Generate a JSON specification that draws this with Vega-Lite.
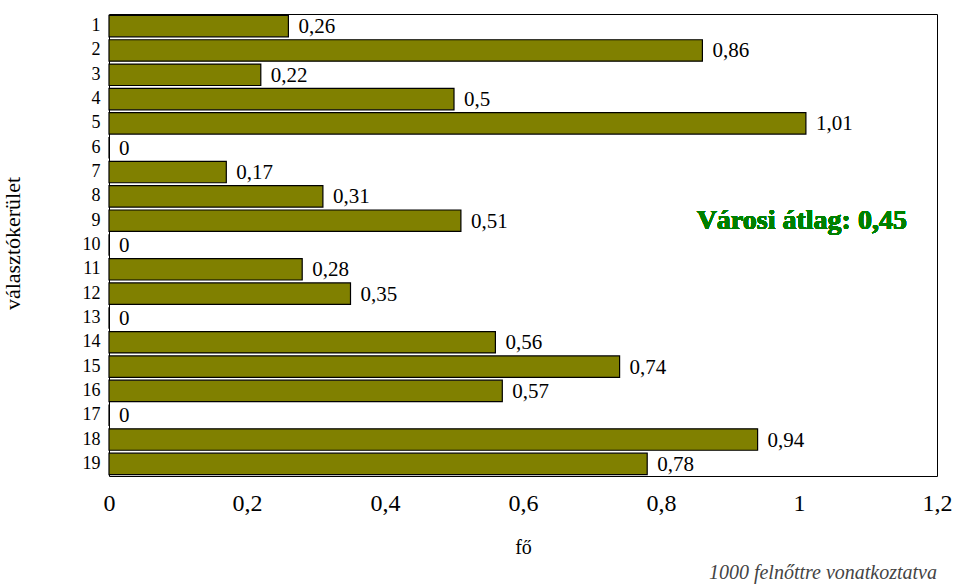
{
  "$schema": "https://vega.github.io/schema/vega-lite/v6.json",
  "width": 828,
  "height": 462,
  "autosize": "none",
  "padding": {"left": 109, "top": 14, "right": 16, "bottom": 109},
  "config": {
    "locale": {"number": {"decimal": ",", "thousands": " ", "grouping": [3], "currency": ["", " Ft"]}},
    "view": {"stroke": "black", "strokeWidth": 1},
    "font": "Liberation Serif",
    "background": "white"
  },
  "title": {
    "text": "1000 felnőttre vonatkoztatva",
    "orient": "bottom",
    "anchor": "end",
    "frame": "group",
    "fontStyle": "italic",
    "fontWeight": "normal",
    "fontSize": 20,
    "color": "#444444",
    "font": "Liberation Serif",
    "offset": 6
  },
  "data": {
    "values": [
      {"kerulet": "1", "ertek": 0.26},
      {"kerulet": "2", "ertek": 0.86},
      {"kerulet": "3", "ertek": 0.22},
      {"kerulet": "4", "ertek": 0.5},
      {"kerulet": "5", "ertek": 1.01},
      {"kerulet": "6", "ertek": 0},
      {"kerulet": "7", "ertek": 0.17},
      {"kerulet": "8", "ertek": 0.31},
      {"kerulet": "9", "ertek": 0.51},
      {"kerulet": "10", "ertek": 0},
      {"kerulet": "11", "ertek": 0.28},
      {"kerulet": "12", "ertek": 0.35},
      {"kerulet": "13", "ertek": 0},
      {"kerulet": "14", "ertek": 0.56},
      {"kerulet": "15", "ertek": 0.74},
      {"kerulet": "16", "ertek": 0.57},
      {"kerulet": "17", "ertek": 0},
      {"kerulet": "18", "ertek": 0.94},
      {"kerulet": "19", "ertek": 0.78}
    ]
  },
  "encoding": {
    "y": {
      "field": "kerulet",
      "type": "ordinal",
      "sort": null,
      "scale": {"paddingInner": 0.12, "paddingOuter": 0.06},
      "axis": {
        "title": "választókerület",
        "titleFont": "Liberation Serif",
        "titleFontWeight": "normal",
        "titleFontSize": 22,
        "titleColor": "black",
        "titleX": -97,
        "titleY": 229,
        "titleAngle": 270,
        "titleAlign": "center",
        "titleBaseline": "middle",
        "labelFont": "Liberation Serif",
        "labelFontSize": 18,
        "labelColor": "black",
        "labelPadding": 9,
        "ticks": false,
        "domain": false
      }
    },
    "x": {
      "field": "ertek",
      "type": "quantitative",
      "scale": {"domain": [0, 1.2], "nice": false},
      "axis": {
        "title": "fő",
        "titleFont": "Liberation Serif",
        "titleFontWeight": "normal",
        "titleFontSize": 20,
        "titleColor": "black",
        "titleY": 71,
        "titleBaseline": "middle",
        "values": [0, 0.2, 0.4, 0.6, 0.8, 1, 1.2],
        "format": ".1~f",
        "labelFont": "Liberation Serif",
        "labelFontSize": 24,
        "labelColor": "black",
        "labelPadding": 15,
        "labelFlush": false,
        "ticks": false,
        "domain": false,
        "grid": false
      }
    }
  },
  "layer": [
    {
      "mark": {"type": "bar", "fill": "#808000", "stroke": "black", "strokeWidth": 1.2}
    },
    {
      "mark": {"type": "text", "align": "left", "baseline": "middle", "dx": 10, "dy": 1, "fontSize": 21, "font": "Liberation Serif", "fill": "black"},
      "encoding": {
        "text": {"field": "ertek", "type": "quantitative", "format": ".2~f"}
      }
    },
    {
      "mark": {"type": "text", "align": "center", "baseline": "middle", "fontSize": 28, "fontWeight": "bold", "font": "Liberation Serif", "fill": "#008000"},
      "encoding": {
        "x": {"datum": 1.004},
        "y": {"datum": "9"},
        "text": {"value": "Városi átlag: 0,45"}
      }
    }
  ]
}
